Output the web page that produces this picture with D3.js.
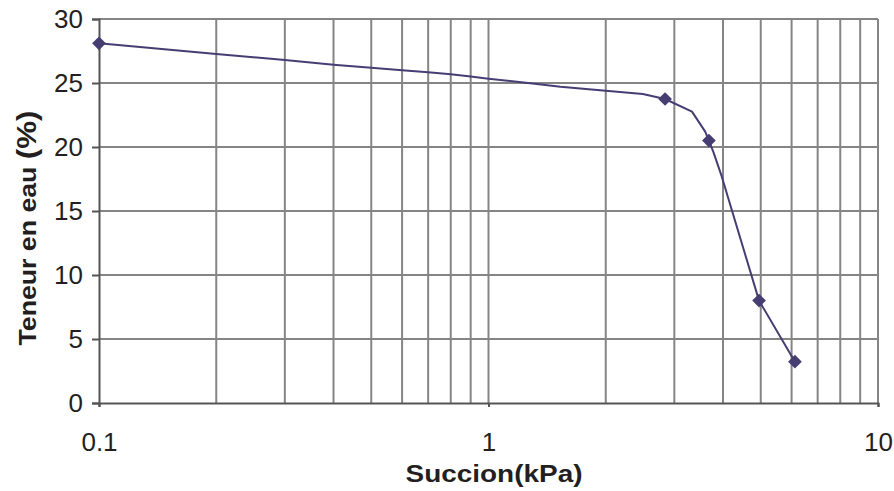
<!DOCTYPE html>
<html><head><meta charset="utf-8">
<script src="https://cdn.jsdelivr.net/npm/d3@7"></script>
<style>body{margin:0;background:#fff}text{font-family:"Liberation Sans",Arial,sans-serif}</style>
</head><body><svg id="c" width="894" height="491"></svg>
<script>
const curveX = [0.1,0.2,0.3,0.4,0.5,0.6,0.7,0.8,0.9,1.0,1.28,1.53,2.0,2.49,2.84,3.33,3.6,3.68,3.78,3.97,4.95,6.12];
const curveY = [28.1,27.27,26.8,26.43,26.2,26.0,25.84,25.68,25.5,25.34,24.98,24.7,24.4,24.14,23.75,22.76,21.2,20.5,19.6,17.7,8.0,3.23];
const pointX = [0.1,2.84,3.68,4.95,6.12];
const pointY = [28.1,23.75,20.5,8.0,3.23];
const xTicks = [0.1,1,10];
const yTicks = [0,5,10,15,20,25,30];
const xGrid = [0.2,0.3,0.4,0.5,0.6,0.7,0.8,0.9,1,2,3,4,5,6,7,8,9,10];

const svg = d3.select("#c");
const m = {l:99, r:878, t:19, b:403};
const x = d3.scaleLog().domain([0.1,10]).range([m.l,m.r]);
const y = d3.scaleLinear().domain([0,30]).range([m.b,m.t]);
const gridCol = "#858585";
const ff = "'Liberation Sans',Arial,sans-serif";

svg.append("g").selectAll("line").data(xGrid).join("line")
  .attr("x1",d=>x(d)).attr("x2",d=>x(d)).attr("y1",m.t).attr("y2",m.b)
  .attr("stroke",gridCol).attr("stroke-width",2);
svg.append("g").selectAll("line").data(yTicks.filter(d=>d>0)).join("line")
  .attr("x1",m.l).attr("x2",m.r).attr("y1",d=>y(d)).attr("y2",d=>y(d))
  .attr("stroke",gridCol).attr("stroke-width",2);

const yAxis = d3.axisLeft(y).tickValues(yTicks).tickSize(7).tickPadding(9).tickFormat(d3.format("d"));
const gy = svg.append("g").attr("transform",`translate(${m.l},0)`).call(yAxis);
gy.select(".domain").attr("stroke","#555").attr("stroke-width",2);
gy.selectAll(".tick line").attr("stroke","#555").attr("stroke-width",2);
gy.selectAll(".tick text").attr("font-size",26).attr("fill","#231f20").style("font-family",ff);

const xAxis = d3.axisBottom(x).tickValues(xTicks).tickSize(4).tickPadding(0).tickFormat(d=>String(d));
const gx = svg.append("g").attr("transform",`translate(0,${m.b})`).call(xAxis);
gx.select(".domain").attr("stroke","#555").attr("stroke-width",2);
gx.selectAll(".tick line").attr("stroke","#555").attr("stroke-width",2);
gx.selectAll(".tick text").attr("font-size",26).attr("fill","#231f20").style("font-family",ff)
  .attr("dy",null).attr("y",48);

const pts = curveX.map((d,i)=>[d,curveY[i]]);
svg.append("path").datum(pts)
  .attr("d", d3.line().x(d=>x(d[0])).y(d=>y(d[1])))
  .attr("fill","none").attr("stroke","#463d73").attr("stroke-width",2).attr("stroke-linejoin","round");

const sym = d3.symbol().type(d3.symbolDiamond2).size(120);
svg.append("g").selectAll("path").data(pointX.map((d,i)=>[d,pointY[i]])).join("path")
  .attr("transform",d=>`translate(${x(d[0])},${y(d[1])})`)
  .attr("d",sym).attr("fill","#463d73");

svg.append("text").attr("x",494).attr("y",482).attr("text-anchor","middle")
  .attr("font-size",23).attr("font-weight","bold").attr("fill","#231f20")
  .attr("textLength",177).attr("lengthAdjust","spacingAndGlyphs").text("Succion(kPa)");
const yt = svg.append("text").attr("transform","translate(36,228) rotate(-90)").attr("text-anchor","middle")
  .attr("font-weight","bold").attr("fill","#231f20")
  .attr("textLength",235).attr("lengthAdjust","spacingAndGlyphs");
yt.append("tspan").attr("font-size",23).text("Teneur en eau ");
yt.append("tspan").attr("font-size",27).text("(%)");
</script></body></html>
